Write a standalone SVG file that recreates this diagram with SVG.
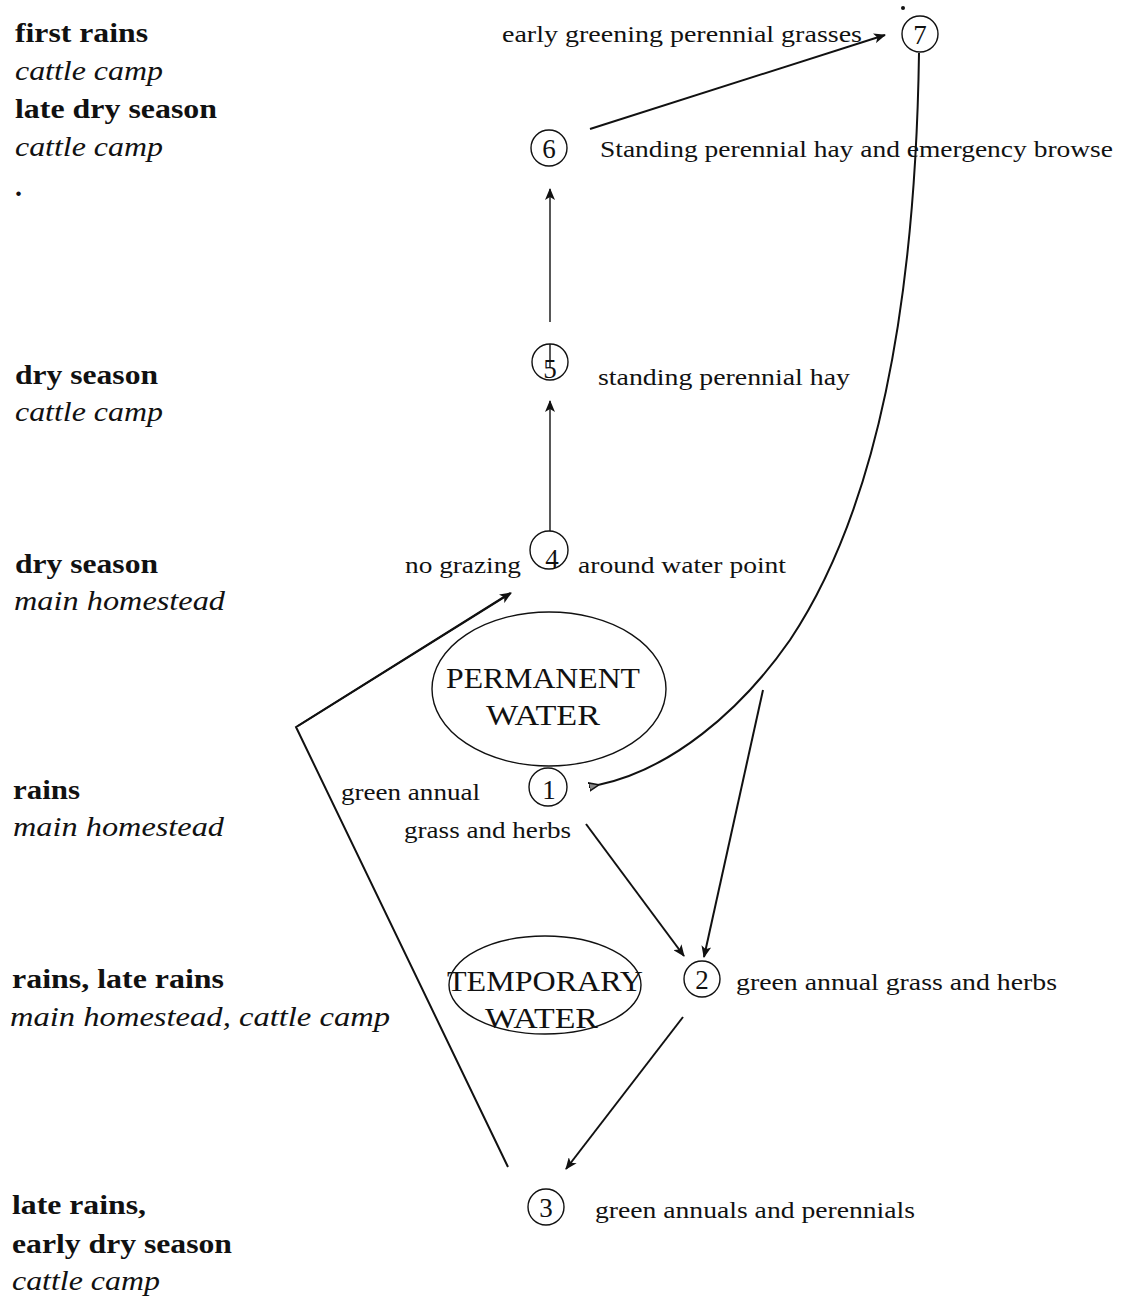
<svg xmlns="http://www.w3.org/2000/svg" width="1122" height="1299" viewBox="0 0 1122 1299">
<defs>
<style>
.lb{font-family:"Liberation Serif","Times New Roman",serif;font-weight:bold;font-size:28px;fill:#111}
.li{font-family:"Liberation Serif","Times New Roman",serif;font-style:italic;font-size:28px;fill:#111}
.t{font-family:"Liberation Serif","Times New Roman",serif;font-size:24px;fill:#111}
.w{font-family:"Liberation Serif","Times New Roman",serif;font-size:29px;fill:#111}
.d{font-family:"Liberation Serif","Times New Roman",serif;font-size:27px;fill:#111;text-anchor:middle}
.c{fill:none;stroke:#111;stroke-width:1.4}
.e{fill:none;stroke:#111;stroke-width:1.4}
.k{fill:none;stroke:#111;stroke-width:2}
.a{marker-end:url(#ah)}
</style>
<marker id="ah" viewBox="0 0 12 10" refX="11" refY="5" markerWidth="12" markerHeight="10" markerUnits="userSpaceOnUse" orient="auto">
<path d="M0,0 L12,5 L0,10 L3,5 Z" fill="#111"/>
</marker>
<marker id="ah2" viewBox="0 0 10 10" refX="1" refY="5" markerWidth="10" markerHeight="10" markerUnits="userSpaceOnUse" orient="auto">
<path d="M10,1 L0,5 L10,9 Z" fill="#888" stroke="#111" stroke-width="1.5"/>
</marker>
</defs>
<rect width="1122" height="1299" fill="#fff"/>

<g id="season-labels">
<text class="lb" x="15" y="42" textLength="133" lengthAdjust="spacingAndGlyphs">first rains</text>
<text class="li" x="15" y="80" textLength="148" lengthAdjust="spacingAndGlyphs">cattle camp</text>
<text class="lb" x="15" y="118" textLength="202" lengthAdjust="spacingAndGlyphs">late dry season</text>
<text class="li" x="15" y="156" textLength="148" lengthAdjust="spacingAndGlyphs">cattle camp</text>
<text class="lb" x="15" y="196">.</text>
<text class="lb" x="15" y="384" textLength="143" lengthAdjust="spacingAndGlyphs">dry season</text>
<text class="li" x="15" y="421" textLength="148" lengthAdjust="spacingAndGlyphs">cattle camp</text>
<text class="lb" x="15" y="573" textLength="143" lengthAdjust="spacingAndGlyphs">dry season</text>
<text class="li" x="14" y="610" textLength="211" lengthAdjust="spacingAndGlyphs">main homestead</text>
<text class="lb" x="13" y="799" textLength="67" lengthAdjust="spacingAndGlyphs">rains</text>
<text class="li" x="13" y="836" textLength="211" lengthAdjust="spacingAndGlyphs">main homestead</text>
<text class="lb" x="12" y="988" textLength="212" lengthAdjust="spacingAndGlyphs">rains, late rains</text>
<text class="li" x="10" y="1026" textLength="380" lengthAdjust="spacingAndGlyphs">main homestead, cattle camp</text>
<text class="lb" x="12" y="1214" textLength="134" lengthAdjust="spacingAndGlyphs">late rains,</text>
<text class="lb" x="12" y="1253" textLength="220" lengthAdjust="spacingAndGlyphs">early dry season</text>
<text class="li" x="12" y="1290" textLength="148" lengthAdjust="spacingAndGlyphs">cattle camp</text>
</g>

<g id="permanent-water">
<ellipse class="e" cx="549" cy="689" rx="117" ry="77"/>
<text class="w" x="446" y="688" textLength="194" lengthAdjust="spacingAndGlyphs">PERMANENT</text>
<text class="w" x="486" y="725" textLength="114" lengthAdjust="spacingAndGlyphs">WATER</text>
</g>

<g id="temporary-water">
<ellipse class="e" cx="545" cy="985" rx="96" ry="49"/>
<text class="w" x="447" y="991" textLength="196" lengthAdjust="spacingAndGlyphs">TEMPORARY</text>
<text class="w" x="485" y="1028" textLength="113" lengthAdjust="spacingAndGlyphs">WATER</text>
</g>

<g id="connectors">
<line class="k a" x1="590" y1="129" x2="885" y2="35"/>
<line class="c a" x1="550" y1="322" x2="550" y2="189"/>
<line class="c" x1="550" y1="344" x2="550" y2="368"/>
<line class="c a" x1="550" y1="531" x2="550" y2="401"/>
<path class="k" d="M919,53 C915,330 870,520 790,640 C740,712 670,770 598,785" marker-end="url(#ah2)"/>
<polyline class="k" points="510,593 296,727 508,1167"/>
<line class="k a" x1="298" y1="726" x2="511" y2="593"/>
<line class="k a" x1="586" y1="824" x2="684" y2="956"/>
<line class="k a" x1="763" y1="690" x2="704" y2="957"/>
<line class="k a" x1="683" y1="1017" x2="566" y2="1169"/>
</g>

<g id="node-7">
<circle cx="903" cy="8" r="2" fill="#111"/>
<circle class="c" cx="920" cy="34" r="18"/>
<text class="d" x="920" y="44">7</text>
<text class="t" x="502" y="42" textLength="360" lengthAdjust="spacingAndGlyphs">early greening perennial grasses</text>
</g>

<g id="node-6">
<circle class="c" cx="549" cy="148" r="18"/>
<text class="d" x="549" y="158">6</text>
<text class="t" x="600" y="157" textLength="513" lengthAdjust="spacingAndGlyphs">Standing perennial hay and emergency browse</text>
</g>

<g id="node-5">
<circle class="c" cx="550" cy="362" r="18"/>
<text class="d" x="550" y="378">5</text>
<text class="t" x="598" y="385" textLength="252" lengthAdjust="spacingAndGlyphs">standing perennial hay</text>
</g>

<g id="node-4">
<circle class="c" cx="549" cy="550" r="19"/>
<text class="d" x="552" y="568">4</text>
<text class="t" x="405" y="573" textLength="116" lengthAdjust="spacingAndGlyphs">no grazing</text>
<text class="t" x="578" y="573" textLength="208" lengthAdjust="spacingAndGlyphs">around water point</text>
</g>

<g id="node-1">
<circle class="c" cx="548" cy="787" r="19"/>
<text class="d" x="549" y="799">1</text>
<text class="t" x="341" y="800" textLength="139" lengthAdjust="spacingAndGlyphs">green annual</text>
<text class="t" x="404" y="838" textLength="167" lengthAdjust="spacingAndGlyphs">grass and herbs</text>
</g>

<g id="node-2">
<circle class="c" cx="702" cy="979" r="18"/>
<text class="d" x="702" y="989">2</text>
<text class="t" x="736" y="990" textLength="321" lengthAdjust="spacingAndGlyphs">green annual grass and herbs</text>
</g>

<g id="node-3">
<circle class="c" cx="546" cy="1207" r="18"/>
<text class="d" x="546" y="1217">3</text>
<text class="t" x="595" y="1218" textLength="320" lengthAdjust="spacingAndGlyphs">green annuals and perennials</text>
</g>
</svg>
